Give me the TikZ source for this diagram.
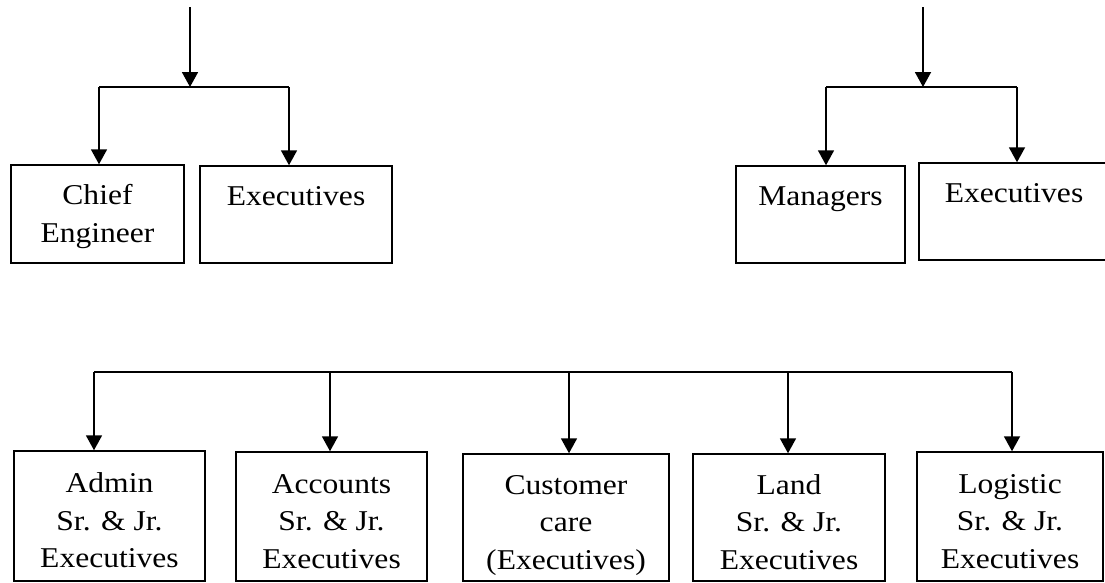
\documentclass[tikz,border=0pt]{standalone}
\usepackage{fontspec}
\setmainfont{Liberation Serif}[FakeStretch=1.1]
\usetikzlibrary{arrows.meta}
\newcommand\mytop[1]{\rule{0pt}{#1}}
\newcommand\mybot{\rule[-7pt]{0pt}{7pt}}
\tikzset{
  box/.style={draw, line width=1.5pt, inner sep=0pt, align=center,
    font=\fontsize{28.7}{37.5}\selectfont},
  conn/.style={line width=1.8pt},
  arr/.style={conn, -{Triangle[width=16pt,length=15pt]}}
}
\begin{document}
\begin{tikzpicture}[x=1pt,y=-1pt]
\useasboundingbox (0,0) rectangle (1105,582);
% boxes
\node[box, minimum width=173pt, minimum height=98pt] (ce) at (97.5,214) {\mytop{25.5pt}Chief\\Engineer\mybot};
\node[box, minimum width=192pt, minimum height=97pt] (ex1) at (296,214.5) {\mytop{25.5pt}Executives\\\mbox{}\mybot};
\node[box, minimum width=169pt, minimum height=97pt] (mg) at (820.5,214.5) {\mytop{25.5pt}Managers\\\mbox{}\mybot};
\node[box, minimum width=190pt, minimum height=97pt] (ex2) at (1014,211.5) {\mytop{25.5pt}Executives\\\mbox{}\mybot};
\node[box, minimum width=191pt, minimum height=130pt] (adm) at (109.5,516) {\mytop{35pt}Admin\\Sr. \& Jr.\\Executives\mybot};
\node[box, minimum width=191pt, minimum height=129pt] (acc) at (331.5,516.5) {\mytop{35pt}Accounts\\Sr. \& Jr.\\Executives\mybot};
\node[box, minimum width=206pt, minimum height=127pt] (cus) at (566,517.5) {\mytop{35pt}Customer\\care\\(Executives)\mybot};
\node[box, minimum width=192pt, minimum height=127pt] (lan) at (789,517.5) {\mytop{35pt}Land\\Sr. \& Jr.\\Executives\mybot};
\node[box, minimum width=186pt, minimum height=129pt] (log) at (1010,516.5) {\mytop{35pt}Logistic\\Sr. \& Jr.\\Executives\mybot};
% top-left connectors
\coordinate (t1) at (190,7);
\coordinate (j1) at (190,87);
\coordinate (l1) at (99,87);
\coordinate (r1) at (289,87);
\draw[arr] (t1) -- (j1);
\draw[conn] (l1) -- (r1);
\draw[arr] (l1) -- (l1 |- ce.north);
\draw[arr] (r1) -- (r1 |- ex1.north);
% top-right connectors
\coordinate (t2) at (923,7);
\coordinate (j2) at (923,87);
\coordinate (l2) at (826,87);
\coordinate (r2) at (1017,87);
\draw[arr] (t2) -- (j2);
\draw[conn] (l2) -- (r2);
\draw[arr] (l2) -- (l2 |- mg.north);
\draw[arr] (r2) -- (r2 |- ex2.north);
% bottom connectors
\coordinate (b1) at (94,372);
\coordinate (b2) at (330,372);
\coordinate (b3) at (569,372);
\coordinate (b4) at (788,372);
\coordinate (b5) at (1012,372);
\draw[conn] (b1) -- (b5);
\draw[arr] (b1) -- (b1 |- adm.north);
\draw[arr] (b2) -- (b2 |- acc.north);
\draw[arr] (b3) -- (b3 |- cus.north);
\draw[arr] (b4) -- (b4 |- lan.north);
\draw[arr] (b5) -- (b5 |- log.north);
\end{tikzpicture}
\end{document}
